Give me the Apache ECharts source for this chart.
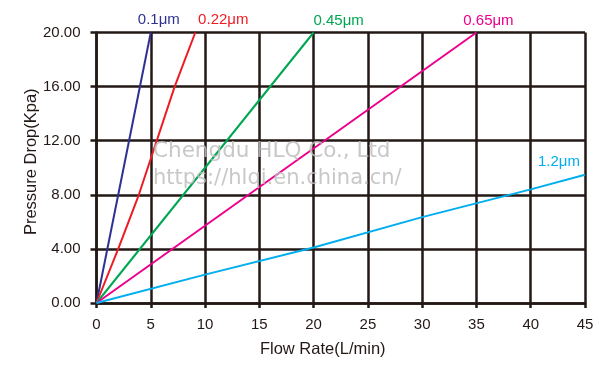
<!DOCTYPE html>
<html>
<head>
<meta charset="utf-8">
<script src="https://cdn.jsdelivr.net/npm/echarts@6/dist/echarts.min.js"></script>
<style>
html,body{margin:0;padding:0;background:#fff;}
#c{width:600px;height:366px;}
</style>
</head>
<body>
<div id="c"></div>
<script>
// ---- data ----
var seriesNames = ['0.1μm', '0.22μm', '0.45μm', '0.65μm', '1.2μm'];
var flow01 = [0, 5];
var drop01 = [0, 20];
var flow022 = [0, 2, 3.9, 7.2, 9.1];
var drop022 = [0, 4, 8, 16, 20];
var flow045 = [0, 20];
var drop045 = [0, 20];
var flow065 = [0, 35];
var drop065 = [0, 20];
var flow12 = [0, 10, 20, 30, 40, 45];
var drop12 = [0, 2.1, 4.1, 6.35, 8.4, 9.48];
var xTicks = [0, 5, 10, 15, 20, 25, 30, 35, 40, 45];
var yTicks = [0, 4, 8, 12, 16, 20];

var colors = ['#2e3192', '#ed1c24', '#00a651', '#ec008c', '#00aeef'];
var labelOffsets = [[8, 0], [28, 0], [25, 1], [12, 1], [-26, 0]];
var flows = [flow01, flow022, flow045, flow065, flow12];
var drops = [drop01, drop022, drop045, drop065, drop12];

var FONT = 'Arial, "Liberation Sans", sans-serif';
var GRID = '#231815';

var series = seriesNames.map(function (name, i) {
  var xs = flows[i], ys = drops[i];
  var data = xs.map(function (x, k) {
    var item = { value: [x, ys[k]] };
    if (k === xs.length - 1) {
      item.label = {
        show: true,
        position: 'top',
        distance: 5,
        offset: labelOffsets[i],
        formatter: name,
        color: colors[i],
        fontSize: 15,
        fontFamily: FONT
      };
    }
    return item;
  });
  return {
    name: name,
    type: 'line',
    data: data,
    showSymbol: true,
    symbol: 'circle',
    symbolSize: 0,
    label: { show: false },
    lineStyle: { color: colors[i], width: 2 },
    itemStyle: { color: colors[i] },
    z: 3,
    animation: false
  };
});

var chart = echarts.init(document.getElementById('c'), null, { renderer: 'canvas' });
chart.setOption({
  animation: false,
  grid: { left: 96.5, right: 15, top: 32.5, bottom: 63, containLabel: false },
  xAxis: {
    type: 'value',
    min: xTicks[0],
    max: xTicks[xTicks.length - 1],
    interval: xTicks[1] - xTicks[0],
    name: 'Flow Rate(L/min)',
    nameLocation: 'middle',
    nameGap: 38,
    nameMoveOverlap: false,
    nameTextStyle: { fontSize: 16.5, color: '#231815', fontFamily: FONT, padding: [0, 36, 0, 0] },
    axisLine: { show: true, lineStyle: { color: GRID, width: 2.5 } },
    axisTick: { show: true, inside: false, length: 5, lineStyle: { color: GRID, width: 2.5 } },
    axisLabel: { fontSize: 15, color: '#231815', fontFamily: FONT, margin: 14 },
    splitLine: { show: true, lineStyle: { color: GRID, width: 2.5 } }
  },
  yAxis: {
    type: 'value',
    min: yTicks[0],
    max: yTicks[yTicks.length - 1],
    interval: yTicks[1] - yTicks[0],
    name: 'Pressure Drop(Kpa)',
    nameLocation: 'middle',
    nameGap: 57,
    nameMoveOverlap: false,
    nameTextStyle: { fontSize: 16.5, color: '#231815', fontFamily: FONT, padding: [0, 0, 0, 12] },
    axisLine: { show: true, lineStyle: { color: GRID, width: 2.5 } },
    axisTick: { show: true, inside: false, length: 6, lineStyle: { color: GRID, width: 2.5 } },
    axisLabel: {
      fontSize: 15, color: '#231815', fontFamily: FONT, margin: 16,
      formatter: function (v) { return v.toFixed(2); }
    },
    splitLine: { show: true, lineStyle: { color: GRID, width: 2.5 } }
  },
  series: series,
  graphic: [
    {
      type: 'text', left: 153, top: 140, z: 100, silent: true,
      style: { text: 'Chengdu HLQ Co., Ltd', fontSize: 21.5, fontFamily: '"DejaVu Sans", sans-serif', fill: 'rgba(190,190,190,0.85)' }
    },
    {
      type: 'text', left: 153, top: 168, z: 100, silent: true,
      style: { text: 'https://hlqi.en.china.cn/', fontSize: 21, fontFamily: '"DejaVu Sans", sans-serif', fill: 'rgba(190,190,190,0.85)' }
    }
  ]
});
</script>
</body>
</html>
